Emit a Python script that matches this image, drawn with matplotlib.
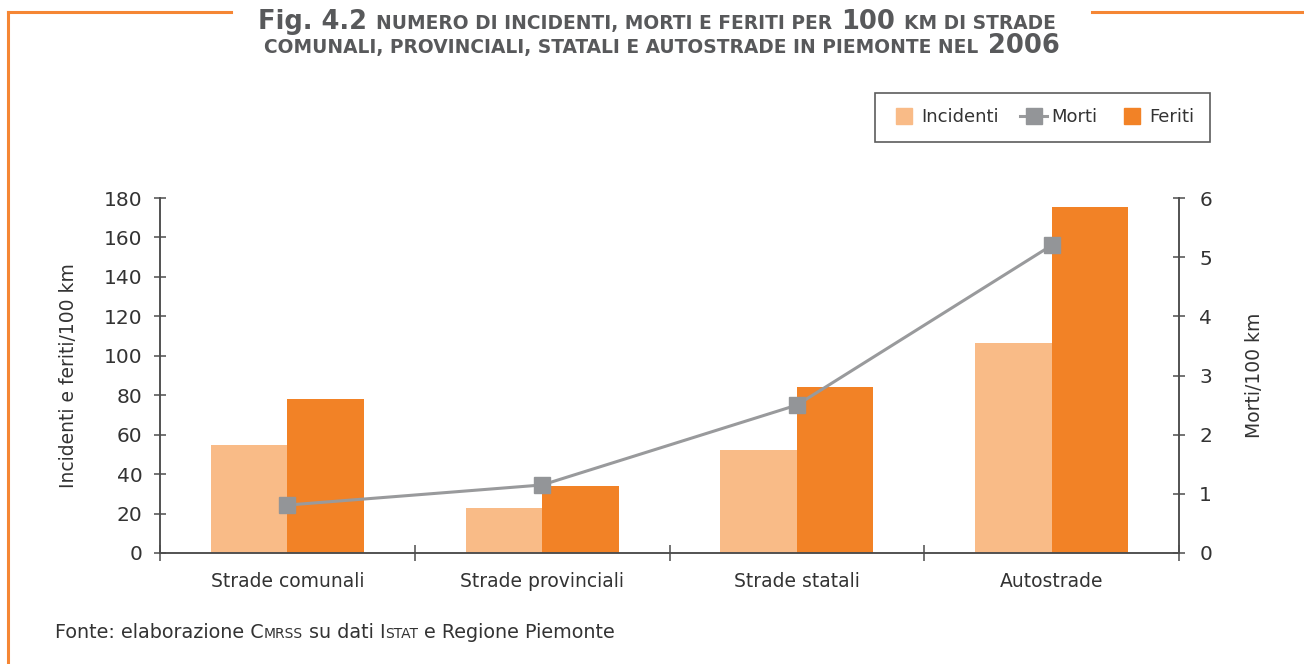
import matplotlib
matplotlib.use("Agg")
import numpy as np
import matplotlib.pyplot as plt
from matplotlib.lines import Line2D

plt.rcParams['font.family'] = ['DejaVu Sans']

# Data
categories = ["Strade comunali", "Strade provinciali", "Strade statali", "Autostrade"]
incidenti = [54.8, 22.9, 52.2, 106.4]
feriti = [78.0, 33.9, 84.0, 175.3]
morti = [0.81, 1.15, 2.50, 5.20]

c_inc = "#f9bb87"
c_fer = "#f28226"
c_mor = "#999a9c"
c_axis = "#4d4d4d"
c_text = "#333333"
c_frame = "#f58634"

W, H = 1304, 664
fig = plt.figure(figsize=(W / 100, H / 100), dpi=100)
ax = fig.add_axes([160 / W, 1 - 553 / H, 1019 / W, (553 - 198) / H])
ax2 = ax.twinx()

x = np.arange(len(categories))
bw = 0.3
ax.bar(x - bw / 2, incidenti, bw, color=c_inc, zorder=2)
ax.bar(x + bw / 2, feriti, bw, color=c_fer, zorder=2)
ax2.plot(x, morti, color=c_mor, lw=2.2, marker='s', ms=11.5, mfc="#939598", mec="#939598", zorder=3)

ax.set_xlim(-0.5, len(categories) - 0.5)
ax.set_ylim(0, 180)
ax2.set_ylim(0, 6)
ax.set_yticks(np.arange(0, 181, 20))
ax2.set_yticks(np.arange(0, 7, 1))

ax.set_xticks(x)
ax.set_xticklabels(categories, fontsize=13.5, color=c_text)
ax.set_xticks(np.arange(-0.5, len(categories), 1), minor=True)
ax.tick_params(axis='x', which='major', length=0, pad=14)
ax.tick_params(axis='x', which='minor', direction='inout', length=12, width=1.1, color=c_axis)
ax.tick_params(axis='y', direction='inout', length=9, width=1.1, color=c_axis,
               labelsize=14.5, labelcolor=c_text, pad=8)
ax2.tick_params(axis='y', direction='inout', length=9, width=1.1, color=c_axis,
                labelsize=14.5, labelcolor=c_text, pad=10)

for a in (ax, ax2):
    a.spines['top'].set_visible(False)
    for s in ('left', 'right', 'bottom'):
        a.spines[s].set_color(c_axis)
        a.spines[s].set_linewidth(1.1)
        a.spines[s].set_zorder(5)
ax.set_zorder(1)
ax2.set_zorder(2)
ax2.patch.set_visible(False)

ax.set_ylabel("Incidenti e feriti/100 km", fontsize=13.5, color=c_text, labelpad=19)
ax2.set_ylabel("Morti/100 km", fontsize=13.5, color=c_text, labelpad=24)

handles = [
    Line2D([], [], ls='none', marker='s', ms=11.5, mfc=c_inc, mec=c_inc),
    Line2D([], [], color=c_mor, lw=2.2, marker='s', ms=11.5, mfc="#939598", mec="#939598"),
    Line2D([], [], ls='none', marker='s', ms=11.5, mfc=c_fer, mec=c_fer),
]
leg = fig.legend(handles, ["Incidenti", "Morti", "Feriti"], ncol=3, loc='upper right',
                 bbox_to_anchor=(1210 / W, 1 - 93 / H), bbox_transform=fig.transFigure,
                 borderaxespad=0, fontsize=13, frameon=True, fancybox=False,
                 edgecolor="#333333", handlelength=1.5, handletextpad=0.2,
                 columnspacing=1.2, borderpad=0.85)
leg.get_frame().set_linewidth(1.2)
for t in leg.get_texts():
    t.set_color(c_text)

# orange frame
fig.add_artist(Line2D([8 / W, 8 / W], [1 - 12 / H, 0], transform=fig.transFigure, color=c_frame, lw=2.2))
fig.add_artist(Line2D([8 / W, 231 / W], [1 - 12 / H, 1 - 12 / H], transform=fig.transFigure, color=c_frame, lw=2.2))
fig.add_artist(Line2D([1092 / W, 1], [1 - 12 / H, 1 - 12 / H], transform=fig.transFigure, color=c_frame, lw=2.2))

renderer = fig.canvas.get_renderer()


def draw_segments(y_px, segments, x_px, align='center', **kw):
    # segments: (text, fontsize, gap before in px)
    texts = []
    total = 0
    for s, size, gap in segments:
        t = fig.text(0, 1 - y_px / H, s, fontsize=size, va='baseline', ha='left', **kw)
        w = t.get_window_extent(renderer).width
        texts.append((t, w, gap))
        total += w + gap
    start = x_px - total / 2 if align == 'center' else x_px
    for t, w, gap in texts:
        start += gap
        t.set_x(start / W)
        start += w


big, small = 18.5, 13.4
title_kw = dict(color="#58595b", fontweight='bold')
draw_segments(29, [("Fig. 4.2", big, 0),
                   ("NUMERO DI INCIDENTI, MORTI E FERITI PER", small, 9),
                   ("100", big, 9),
                   ("KM DI STRADE", small, 9)], 657, **title_kw)
draw_segments(53, [("COMUNALI, PROVINCIALI, STATALI E AUTOSTRADE IN PIEMONTE NEL", small, 0),
                   ("2006", big, 9)], 662, **title_kw)

n, sc = 13.8, 10
draw_segments(638, [("Fonte: elaborazione C", n, 0), ("MRSS", sc, 0),
                    ("su dati I", n, 6), ("STAT", sc, 0),
                    ("e Regione Piemonte", n, 6)], 55, align='left', color=c_text)

fig.savefig("out.png", dpi=100)
